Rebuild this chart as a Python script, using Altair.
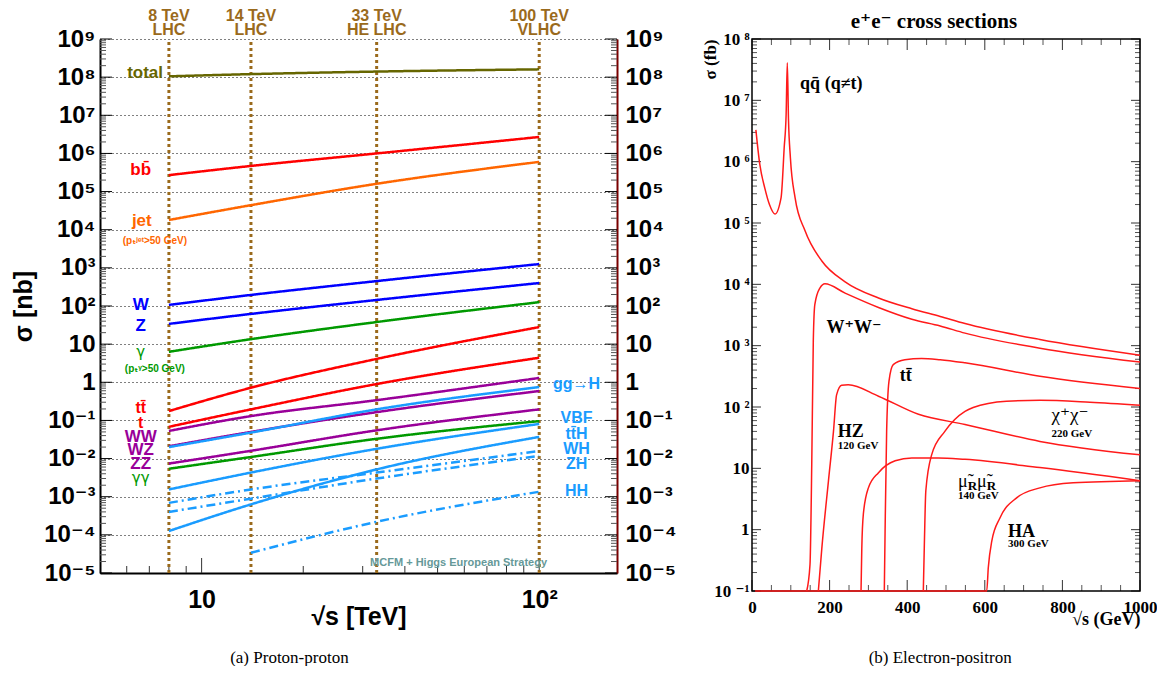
import altair as alt
import pandas as pd

# ================= Proton-proton panel data (sigma in nb) =================
energies = [8, 14, 33, 100]
xs_total = [1.05e8, 1.2e8, 1.4e8, 1.6e8]
xs_bb = [2.7e5, 4.7e5, 1.0e6, 2.7e6]
xs_jet = [1.8e4, 4.4e4, 1.6e5, 6.0e5]
xs_W = [107, 195, 450, 1260]
xs_Z = [34, 62, 144, 400]
xs_gamma = [6.3, 13.5, 38, 126]
xs_ttbar = [0.176, 0.72, 4.1, 28]
xs_t = [0.068, 0.195, 0.9, 4.4]
xs_WW = [0.053, 0.13, 0.34, 1.3]
xs_ggH = [0.020, 0.048, 0.195, 0.75]
xs_WZ = [0.021, 0.05, 0.165, 0.59]
xs_ZZ = [0.0074, 0.016, 0.055, 0.195]
xs_gamgam = [0.0054, 0.011, 0.033, 0.096]
xs_VBF = [0.00155, 0.0043, 0.018, 0.081]
xs_ttH = [1.26e-4, 6.3e-4, 0.0052, 0.037]
xs_WH = [6.9e-4, 0.00155, 0.0043, 0.0158]
xs_ZH = [4.0e-4, 8.9e-4, 0.0030, 0.0117]
xs_HH = [None, 3.4e-5, 2.2e-4, 0.00135]

OLIVE, RED, ORANGE, BLUE = "#666600", "#ff0000", "#ff6600", "#0000ff"
GREEN, PURPLE, LBLUE, BROWN = "#009900", "#990099", "#1a9cff", "#9a6a1c"

pp_spec = [
    ("total", xs_total, OLIVE, "solid"), ("bb", xs_bb, RED, "solid"),
    ("jet", xs_jet, ORANGE, "solid"), ("W", xs_W, BLUE, "solid"),
    ("Z", xs_Z, BLUE, "solid"), ("gamma", xs_gamma, GREEN, "solid"),
    ("ttbar", xs_ttbar, RED, "solid"), ("t", xs_t, RED, "solid"),
    ("WW", xs_WW, PURPLE, "solid"), ("WZ", xs_WZ, PURPLE, "solid"),
    ("ZZ", xs_ZZ, PURPLE, "solid"), ("gamgam", xs_gamgam, GREEN, "solid"),
    ("ggH", xs_ggH, LBLUE, "solid"), ("VBF", xs_VBF, LBLUE, "solid"),
    ("ttH", xs_ttH, LBLUE, "solid"), ("WH", xs_WH, LBLUE, "dashdot"),
    ("ZH", xs_ZH, LBLUE, "dashdot"), ("HH", xs_HH, LBLUE, "dashdot"),
]

# bold sans labels
pp_labels = ["total", "bb̄", "jet", "(pₜʲᵉᵗ>50 GeV)", "W", "Z", "(pₜᵞ>50 GeV)",
             "tt̄", "t", "WW", "WZ", "ZZ",
             "gg→H", "VBF", "tt̄H", "WH", "ZH", "HH"]
pp_label_x = [6.8, 6.6, 6.65, 7.27, 6.6, 6.6, 7.27, 6.6, 6.6, 6.6, 6.6, 6.6,
              129, 129, 129, 129, 129, 129]
pp_label_y = [1.3e8, 3.6e5, 1.7e4, 5e3, 107, 30, 2.2, 0.21, 0.085, 0.036, 0.0166,
              0.0072, 0.9, 0.114, 0.044, 0.0178, 0.0072, 0.0014]
pp_label_c = [OLIVE, RED, ORANGE, ORANGE, BLUE, BLUE, GREEN, RED, RED, PURPLE,
              PURPLE, PURPLE, LBLUE, LBLUE, LBLUE, LBLUE, LBLUE, LBLUE]
pp_label_s = [17, 17, 17, 10, 17, 17, 10, 16, 16, 17, 17, 17, 16, 16, 16, 16, 16, 16]
# thin greek labels
pp_glabels = ["γ", "γγ"]
pp_glabel_x = [6.6, 6.6]
pp_glabel_y = [6.2, 0.0031]

hdr_top = ["8 TeV", "14 TeV", "33 TeV", "100 TeV"]
hdr_bot = ["LHC", "LHC", "HE LHC", "VLHC"]

pp_y_exps = list(range(-5, 10))
pp_y_major = [10.0 ** e for e in pp_y_exps]
pp_y_minor = [k * 10.0 ** e for e in range(-5, 9) for k in range(2, 10)]
pp_x_major = [10, 100]
pp_x_minor = [6, 7, 8, 9, 20, 30, 40, 50, 60, 70, 80, 90]

# ================= Electron-positron panel data (sigma in fb) =================
qq_x = [10, 20, 33, 45, 59, 75, 83, 88, 91, 94, 99, 111, 137, 180, 240, 326, 412, 485, 549, 742, 1000]
qq_y = [3.3e6, 9.1e5, 3.7e5, 2.0e5, 1.4e5, 2.6e5, 1.7e6, 6e6, 4.1e7, 5e6, 1.15e6, 2.6e5, 7.4e4,
        2.4e4, 1.1e4, 6.0e3, 4.0e3, 3.0e3, 2.3e3, 1.26e3, 7.0e2]
ww_x = [141, 149.5, 154, 158, 162, 175, 188, 240, 326, 412, 485, 549, 742, 1000]
ww_y = [0.1, 0.27, 11.5, 1.2e3, 4.7e3, 8.7e3, 1.02e4, 7.2e3, 4.2e3, 2.7e3, 2.1e3, 1.6e3, 9.1e2, 5.4e2]
tt_x = [341, 343, 347, 353, 364, 394, 437, 485, 549, 742, 1000]
tt_y = [0.1, 0.93, 40, 262, 490, 590, 620, 590, 525, 316, 200]
hz_x = [171, 180, 197, 210, 218, 231, 248, 326, 429, 549, 742, 1000]
hz_y = [0.1, 0.5, 6.2, 40, 158, 227, 230, 150, 76, 52, 27.5, 16.6]
mu_x = [281, 283, 287, 300, 326, 369, 412, 480, 549, 742, 1000]
mu_y = [0.1, 0.5, 1.8, 4.8, 8.5, 13.3, 14.8, 14.8, 14, 10.3, 6.3]
chi_x = [441.5, 444, 448, 463, 497, 549, 570, 656, 742, 871, 1000]
chi_y = [0.1, 0.5, 4.3, 16.6, 40, 85, 98, 124, 129, 120, 107]
ha_x = [8, 590, 605, 609, 618, 639, 682, 742, 828, 1000]
ha_y = [0.1, 0.1, 0.1, 0.24, 0.65, 1.55, 3.3, 4.8, 5.8, 6.3]

ee_big_labels = ["qq̄ (q≠t)", "W⁺W⁻", "tt̄", "HZ", "HA"]
ee_big_x = [124, 192, 381, 221, 660]
ee_big_y = [1.85e7, 1.95e3, 316, 39, 0.93]
ee_small_labels = ["120 GeV", "220 GeV", "140 GeV", "300 GeV"]
ee_small_x = [221, 772, 531, 660]
ee_small_y = [23, 36, 3.5, 0.58]
ee_chi_label, ee_chi_x, ee_chi_y = ["χ⁺χ⁻"], [772], [74]
ee_mu_labels, ee_mu_x, ee_mu_y = ["μ̃", "μ̃"], [531, 580], [5.9, 5.9]
ee_R_labels, ee_R_x, ee_R_y = ["R", "R"], [556, 605], [5.9, 5.9]

ee_y_exps = list(range(-1, 9))
ee_y_major = [10.0 ** e for e in ee_y_exps]
ee_y_minor = [k * 10.0 ** e for e in range(-1, 8) for k in range(2, 10)]
ee_x_major = [0, 200, 400, 600, 800, 1000]
ee_x_minor = [50, 100, 150, 250, 300, 350, 450, 500, 550, 650, 700, 750, 850, 900, 950]

# ================= helpers =================
SUP = {"0": "⁰", "1": "¹", "2": "²", "3": "³", "4": "⁴", "5": "⁵", "6": "⁶",
       "7": "⁷", "8": "⁸", "9": "⁹", "-": "⁻"}


def sup(n):
    return "".join(SUP[c] for c in str(n))


def label_expr(exps, sep=""):
    e = "round(log(datum.value)/LN10)"
    parts = []
    for n in exps:
        lab = "1" if n == 0 else ("10" if n == 1 else "10" + sep + sup(n))
        parts.append(f"{e}=={n}?'{lab}':")
    return "".join(parts) + "''"


SANS = "Liberation Sans, DejaVu Sans"
SERIF = "Liberation Serif, DejaVu Serif"
Q = "quantitative"


def dat(v):
    return alt.datum(v, type=Q, axis=None)


# ================= Left chart =================
WL, HL = 517, 534
XMIN, XMAX, YMIN, YMAX = 5, 170, 1e-5, 1e9
XL = alt.Scale(type="log", domain=[XMIN, XMAX], nice=False)
YL = alt.Scale(type="log", domain=[YMIN, YMAX], nice=False)

rows = []
for name, vals, col, dash in pp_spec:
    for e, v in zip(energies, vals):
        if v is not None:
            rows.append(dict(series=name, E=e, xs=v, dash=dash))
pp_df = pd.DataFrame(rows)

pp_lines = alt.Chart(pp_df).mark_line(strokeWidth=2.5, interpolate="monotone").encode(
    x=alt.X("E:Q", scale=XL, axis=None),
    y=alt.Y("xs:Q", scale=YL, axis=None),
    color=alt.Color("series:N", scale=alt.Scale(domain=[s[0] for s in pp_spec],
                                                range=[s[2] for s in pp_spec]), legend=None),
    strokeDash=alt.StrokeDash("dash:N", scale=alt.Scale(domain=["solid", "dashdot"],
                                                        range=[[1, 0], [9, 4, 2, 4]]), legend=None),
    detail="series:N",
)

vlines = alt.Chart(pd.DataFrame({"E": energies})).mark_rule(
    color=BROWN, strokeWidth=3, strokeDash=[3, 3]).encode(
    x=alt.X("E:Q", scale=XL, axis=None), y=dat(YMIN), y2=alt.datum(YMAX))

hdr_df = pd.DataFrame({"E": energies, "top": hdr_top, "bot": hdr_bot})
hdr1 = alt.Chart(hdr_df).mark_text(font=SANS, fontWeight="bold", fontSize=16, color=BROWN,
                                   baseline="alphabetic", dy=-18).encode(
    x=alt.X("E:Q", scale=XL, axis=None), y=dat(YMAX), text="top:N")
hdr2 = alt.Chart(hdr_df).mark_text(font=SANS, fontWeight="bold", fontSize=16, color=BROWN,
                                   baseline="alphabetic", dy=-4).encode(
    x=alt.X("E:Q", scale=XL, axis=None), y=dat(YMAX), text="bot:N")

lab_df = pd.DataFrame({"t": pp_labels, "x": pp_label_x, "y": pp_label_y,
                       "c": pp_label_c, "s": pp_label_s})
pp_text = alt.Chart(lab_df).mark_text(font=SANS, fontWeight="bold", baseline="middle").encode(
    x=alt.X("x:Q", scale=XL, axis=None), y=alt.Y("y:Q", scale=YL, axis=None),
    text="t:N", color=alt.Color("c:N", scale=None), size=alt.Size("s:Q", scale=None))
g_df = pd.DataFrame({"t": pp_glabels, "x": pp_glabel_x, "y": pp_glabel_y})
pp_gtext = alt.Chart(g_df).mark_text(font="DejaVu Sans", fontSize=15, color=GREEN,
                                     baseline="middle").encode(
    x=alt.X("x:Q", scale=XL, axis=None), y=alt.Y("y:Q", scale=YL, axis=None), text="t:N")

foot = alt.Chart(pd.DataFrame({"t": ["MCFM + Higgs European Strategy"], "x": [57.7], "y": [1.8e-5]})
                 ).mark_text(font=SANS, fontWeight="bold", fontSize=11, color="#669999",
                             baseline="middle").encode(
    x=alt.X("x:Q", scale=XL, axis=None), y=alt.Y("y:Q", scale=YL, axis=None), text="t:N")

left_axis = alt.Axis(orient="left", values=pp_y_major, labelExpr=label_expr(pp_y_exps),
                     labelFont=SANS, labelFontWeight="bold", labelFontSize=24, labelColor="black",
                     labelPadding=5, labelOverlap=False, ticks=False, domain=True,
                     domainColor="black", domainWidth=2, grid=True, gridColor="black",
                     gridDash=[1, 3], gridWidth=1, title="σ [nb]", titleFont=SANS,
                     titleFontWeight="bold", titleFontSize=25, titleColor="black", titlePadding=7)
right_axis = alt.Axis(orient="right", values=pp_y_major, labelExpr=label_expr(pp_y_exps),
                      labelFont=SANS, labelFontWeight="bold", labelFontSize=24, labelColor="black",
                      labelPadding=8, labelOverlap=False, ticks=False, domain=True,
                      domainColor="#7a0000", domainWidth=2, grid=False, title=None)
bottom_axis = alt.Axis(orient="bottom", values=pp_x_major, labelExpr=label_expr([1, 2]),
                       labelFont=SANS, labelFontWeight="bold", labelFontSize=25, labelColor="black",
                       labelPadding=14, labelOverlap=False, labelFlush=False, ticks=False,
                       domain=True, domainColor="black", domainWidth=2, grid=False,
                       title="√s [TeV]", titleFont=SANS, titleFontWeight="bold", titleFontSize=25,
                       titleColor="black", titleY=31, titleBaseline="top")

ymaj = pd.DataFrame({"v": pp_y_major})
ymin = pd.DataFrame({"v": pp_y_minor})
l_ymaj = alt.Chart(ymaj).mark_rule(color="black", strokeWidth=1).encode(
    y=alt.Y("v:Q", scale=YL, axis=left_axis), x=dat(XMIN), x2=alt.value(12))
r_ymaj = alt.Chart(ymaj).mark_rule(color="black", strokeWidth=1).encode(
    y=alt.Y("v:Q", scale=YL, axis=right_axis), x=dat(XMAX), x2=alt.value(WL - 12))
l_ymin = alt.Chart(ymin).mark_rule(color="#555555", strokeWidth=1).encode(
    y=alt.Y("v:Q", scale=YL, axis=None), x=dat(XMIN), x2=alt.value(6))
r_ymin = alt.Chart(ymin).mark_rule(color="#555555", strokeWidth=1).encode(
    y=alt.Y("v:Q", scale=YL, axis=None), x=dat(XMAX), x2=alt.value(WL - 6))
b_xmaj = alt.Chart(pd.DataFrame({"v": pp_x_major})).mark_rule(color="#333333", strokeWidth=1).encode(
    x=alt.X("v:Q", scale=XL, axis=bottom_axis), y=dat(YMIN), y2=alt.value(HL - 15))
b_xmin = alt.Chart(pd.DataFrame({"v": pp_x_minor})).mark_rule(color="#333333", strokeWidth=1).encode(
    x=alt.X("v:Q", scale=XL, axis=None), y=dat(YMIN), y2=alt.value(HL - 7))

cap_a = alt.Chart(pd.DataFrame({"t": ["(a) Proton-proton"], "x": [18.2]})).mark_text(
    font=SERIF, fontSize=17, color="black", baseline="middle", dy=85).encode(
    x=alt.X("x:Q", scale=XL, axis=None), y=dat(YMIN), text="t:N")

left = alt.layer(l_ymaj, r_ymaj, l_ymin, r_ymin, b_xmaj, b_xmin, vlines, pp_lines,
                 pp_text, pp_gtext, foot, hdr1, hdr2, cap_a).properties(
    width=WL, height=HL).resolve_axis(x="independent", y="independent")

# ================= Right chart =================
WR, HR = 388, 552
EXMIN, EXMAX, EYMIN, EYMAX = 0, 1000, 0.1, 1e8
XR = alt.Scale(domain=[EXMIN, EXMAX], nice=False)
YR = alt.Scale(type="log", domain=[EYMIN, EYMAX], nice=False)

curves = [("qq", qq_x, qq_y), ("WW", ww_x, ww_y), ("tt", tt_x, tt_y), ("HZ", hz_x, hz_y),
          ("mumu", mu_x, mu_y), ("chichi", chi_x, chi_y), ("HA", ha_x, ha_y)]
erows = []
for name, xv, yv in curves:
    for a, b in zip(xv, yv):
        erows.append(dict(curve=name, x=a, y=b))
ee_df = pd.DataFrame(erows)

ee_lines = alt.Chart(ee_df).mark_line(color="#ff1a1a", strokeWidth=1.5, interpolate="monotone").encode(
    x=alt.X("x:Q", scale=XR, axis=None), y=alt.Y("y:Q", scale=YR, axis=None), detail="curve:N")


def ee_text(labels, xv, yv, size, weight, dy=0):
    df = pd.DataFrame({"t": labels, "x": xv, "y": yv})
    return alt.Chart(df).mark_text(font=SERIF, fontSize=size, fontWeight=weight, color="black",
                                   align="left", baseline="middle", dy=dy).encode(
        x=alt.X("x:Q", scale=XR, axis=None), y=alt.Y("y:Q", scale=YR, axis=None), text="t:N")


t_big = ee_text(ee_big_labels, ee_big_x, ee_big_y, 18, "bold")
t_small = ee_text(ee_small_labels, ee_small_x, ee_small_y, 11, "bold")
t_chi = ee_text(ee_chi_label, ee_chi_x, ee_chi_y, 19, "normal")
t_mu = ee_text(ee_mu_labels, ee_mu_x, ee_mu_y, 18, "normal")
t_R = ee_text(ee_R_labels, ee_R_x, ee_R_y, 13, "bold", dy=4)

ee_left_axis = alt.Axis(orient="left", values=ee_y_major, labelExpr=label_expr(ee_y_exps, " "),
                        labelFont=SERIF, labelFontWeight="bold", labelFontSize=17,
                        labelColor="black", labelPadding=3, labelOverlap=False, ticks=False,
                        domain=False, grid=False, title="σ (fb)", titleFont=SERIF,
                        titleFontWeight="bold", titleFontSize=17, titleColor="black",
                        titleAngle=270, titleAlign="right", titleBaseline="middle",
                        titleX=-42, titleY=0)
ee_bottom_axis = alt.Axis(orient="bottom", values=ee_x_major, format="d", labelFont=SERIF,
                          labelFontWeight="bold", labelFontSize=17, labelColor="black",
                          labelPadding=8, labelOverlap=False, labelFlush=False, ticks=False,
                          domain=False, grid=False, title="√s (GeV)", titleFont=SERIF,
                          titleFontWeight="bold", titleFontSize=18, titleColor="black",
                          titleX=WR, titleY=33, titleAlign="right", titleBaseline="alphabetic")

eymaj = pd.DataFrame({"v": ee_y_major})
eymin = pd.DataFrame({"v": ee_y_minor})
exmaj = pd.DataFrame({"v": ee_x_major})
exmin = pd.DataFrame({"v": ee_x_minor})
e_l_maj = alt.Chart(eymaj).mark_rule(color="#333333").encode(
    y=alt.Y("v:Q", scale=YR, axis=ee_left_axis), x=dat(EXMIN), x2=alt.value(9))
e_r_maj = alt.Chart(eymaj).mark_rule(color="#333333").encode(
    y=alt.Y("v:Q", scale=YR, axis=None), x=dat(EXMAX), x2=alt.value(WR - 9))
e_l_min = alt.Chart(eymin).mark_rule(color="#555555").encode(
    y=alt.Y("v:Q", scale=YR, axis=None), x=dat(EXMIN), x2=alt.value(5))
e_r_min = alt.Chart(eymin).mark_rule(color="#555555").encode(
    y=alt.Y("v:Q", scale=YR, axis=None), x=dat(EXMAX), x2=alt.value(WR - 5))
e_b_maj = alt.Chart(exmaj).mark_rule(color="#333333").encode(
    x=alt.X("v:Q", scale=XR, axis=ee_bottom_axis), y=dat(EYMIN), y2=alt.value(HR - 11))
e_t_maj = alt.Chart(exmaj).mark_rule(color="#333333").encode(
    x=alt.X("v:Q", scale=XR, axis=None), y=dat(EYMAX), y2=alt.value(11))
e_b_min = alt.Chart(exmin).mark_rule(color="#555555").encode(
    x=alt.X("v:Q", scale=XR, axis=None), y=dat(EYMIN), y2=alt.value(HR - 6))
e_t_min = alt.Chart(exmin).mark_rule(color="#555555").encode(
    x=alt.X("v:Q", scale=XR, axis=None), y=dat(EYMAX), y2=alt.value(6))

frame = alt.Chart(pd.DataFrame({"a": [0]})).mark_rect(filled=False, stroke="black", strokeWidth=1.5).encode(
    x=dat(EXMIN), x2=alt.datum(EXMAX), y=dat(EYMIN), y2=alt.datum(EYMAX))

ee_title = alt.Chart(pd.DataFrame({"t": ["e⁺e⁻ cross sections"], "x": [469]})).mark_text(
    font=SERIF, fontSize=21, fontWeight="bold", color="black", baseline="alphabetic", dy=-11).encode(
    x=alt.X("x:Q", scale=XR, axis=None), y=dat(EYMAX), text="t:N")
cap_b = alt.Chart(pd.DataFrame({"t": ["(b) Electron-positron"], "x": [485]})).mark_text(
    font=SERIF, fontSize=17, color="black", baseline="middle", dy=67).encode(
    x=alt.X("x:Q", scale=XR, axis=None), y=dat(EYMIN), text="t:N")

right = alt.layer(e_l_maj, e_r_maj, e_l_min, e_r_min, e_b_maj, e_t_maj, e_b_min, e_t_min,
                  frame, ee_lines, t_big, t_small, t_chi, t_mu, t_R, ee_title, cap_b).properties(
    width=WR, height=HR).resolve_axis(x="independent", y="independent")

chart = alt.hconcat(left, right, spacing=135, bounds="flush",
                    padding={"left": 3, "top": 0, "right": 0, "bottom": 0}).configure_view(stroke=None)
chart.save("out.html", embed_options={"renderer": "svg", "actions": False})
